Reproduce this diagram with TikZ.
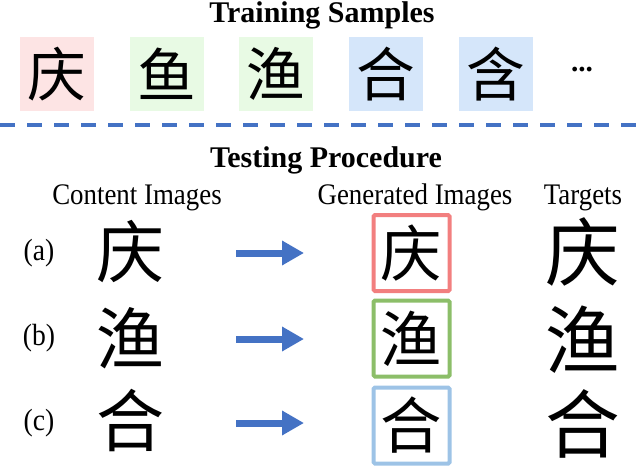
\documentclass[tikz,border=0pt]{standalone}
\usepackage{fontspec}
\setmainfont{Liberation Serif}
\newfontfamily\condensed{Liberation Serif}[FakeStretch=0.9]
\newfontfamily\cjk{Noto Sans CJK SC}
\usetikzlibrary{arrows.meta}
\definecolor{pinkbg}{HTML}{FDE4E4}
\definecolor{greenbg}{HTML}{E8FAE4}
\definecolor{bluebg}{HTML}{D5E6FA}
\definecolor{redframe}{HTML}{F27F7F}
\definecolor{greenframe}{HTML}{8CBE69}
\definecolor{blueframe}{HTML}{9DC3E6}
\definecolor{arrowblue}{HTML}{4472C4}
\tikzset{
  title/.style={font=\fontsize{22.5}{26}\selectfont\bfseries, anchor=base},
  header/.style={font=\condensed\fontsize{22.4}{26}\selectfont, anchor=base},
  rowlabel/.style={font=\condensed\fontsize{23}{27}\selectfont},
  sample/.style={minimum width=55.5pt, minimum height=55.5pt, inner sep=0pt, font=\cjk\fontsize{44}{44}\selectfont},
  content/.style={inner sep=0pt, font=\cjk\fontsize{51}{51}\selectfont},
  gen/.style={draw, line width=3pt, minimum width=57pt, minimum height=57pt, inner sep=0pt, rounded corners=1pt, font=\cjk\fontsize{46}{46}\selectfont},
  target/.style={inner sep=0pt, font=\cjk\fontsize{56}{56}\selectfont},
  bigarrow/.style={arrowblue, line width=5.25pt, -{Triangle[length=16.5pt,width=17.5pt]}},
  divider/.style={arrowblue, line width=3pt, dash pattern=on 11.25pt off 9pt},
}
\begin{document}
\begin{tikzpicture}[x=0.75pt,y=-0.75pt]
\useasboundingbox (0,0) rectangle (640,468);
% Training samples
\node[title] (ttrain) at (322,22) {Training Samples};
\node[sample, fill=pinkbg] (s1) at (57,74) {庆};
\node[sample, fill=greenbg] (s2) at (167,74) {鱼};
\node[sample, fill=greenbg] (s3) at (275.5,74) {渔};
\node[sample, fill=bluebg] (s4) at (385.5,74) {合};
\node[sample, fill=bluebg] (s5) at (495.5,74) {含};
\node[font=\fontsize{22}{26}\selectfont\bfseries] (dots) at (582,70) {...};
% divider
\coordinate (dl) at (0,125);
\coordinate (dr) at (640,125);
\draw[divider] (dl) -- (dr);
% Testing procedure
\node[title] (ttest) at (326,167) {Testing Procedure};
\node[header] (hc) at (137,204) {Content Images};
\node[header] (hg) at (415,204) {Generated Images};
\node[header] (ht) at (583,204) {Targets};
% rows
\node[rowlabel] (la) at (39,253) {(a)};
\node[rowlabel] (lb) at (39,338) {(b)};
\node[rowlabel] (lc) at (39,423) {(c)};
\node[content] (ca) at (130,252) {庆};
\node[content] (cb) at (130,338) {渔};
\node[content] (cc) at (130,420) {合};
\coordinate (a1s) at (236,253); \coordinate (a1e) at (304,253);
\coordinate (a2s) at (236,339); \coordinate (a2e) at (304,339);
\coordinate (a3s) at (236,423); \coordinate (a3e) at (304,423);
\draw[bigarrow] (a1s) -- (a1e);
\draw[bigarrow] (a2s) -- (a2e);
\draw[bigarrow] (a3s) -- (a3e);
\node[gen, draw=redframe] (ga) at (411.5,253) {庆};
\node[gen, draw=greenframe] (gb) at (411.5,338.5) {渔};
\node[gen, draw=blueframe] (gc) at (411.5,425.5) {合};
\node[target] (ta) at (583,252) {庆};
\node[target] (tb) at (583,340) {渔};
\node[target] (tc) at (583,424) {合};
\end{tikzpicture}
\end{document}
